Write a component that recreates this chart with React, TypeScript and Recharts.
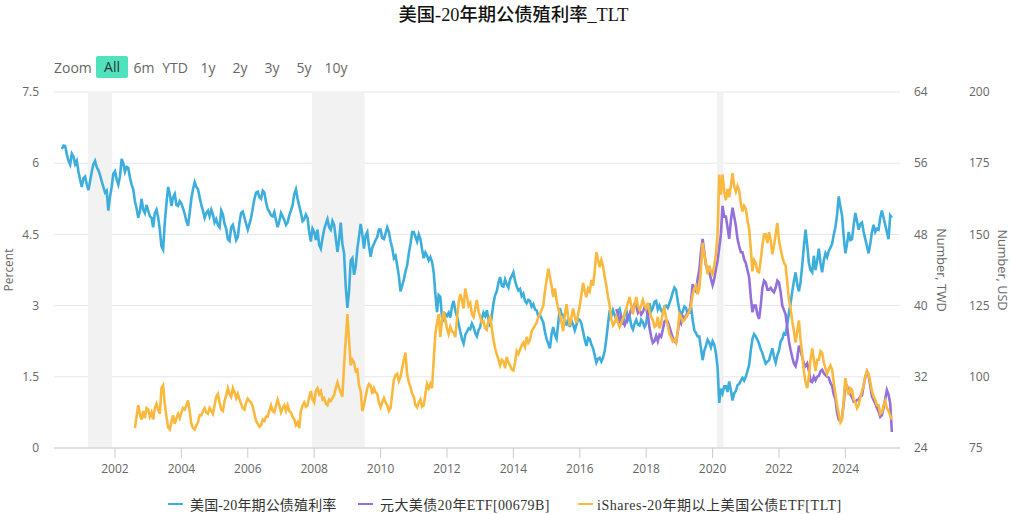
import { CartesianGrid, Legend, Line, LineChart, ReferenceArea, XAxis, YAxis } from "recharts"

// one reading every 0.05 year, starting at 2000.4
const startYear = 2000.4
const yearStep = 0.05

const yieldValues = [
  6.30, 6.37, 6.36, 6.18, 6.05, 5.97, 6.20, 6.14, 5.98, 6.05, 5.82, 5.65, 5.50, 5.68, 5.72, 5.55, 5.43, 5.62, 5.82, 5.98,
  6.05, 5.92, 5.85, 5.75, 5.62, 5.50, 5.38, 5.42, 5.00, 5.30, 5.50, 5.78, 5.83, 5.66, 5.55, 5.72, 6.09, 6.00, 5.82, 5.92,
  5.90, 5.70, 5.55, 5.45, 5.20, 5.05, 4.85, 4.98, 5.25, 5.02, 4.95, 5.12, 5.00, 4.88, 4.85, 4.65, 4.95, 5.02, 4.86, 4.60,
  4.25, 4.18, 4.75, 5.15, 5.50, 5.35, 5.10, 5.28, 5.35, 5.12, 5.10, 5.20, 5.15, 5.05, 4.93, 4.78, 4.68, 4.95, 5.25, 5.45,
  5.60, 5.50, 5.45, 5.28, 5.12, 5.00, 4.85, 4.95, 5.00, 4.88, 5.02, 4.92, 4.75, 4.82, 4.70, 4.65, 5.00, 4.92, 4.72, 4.62,
  4.40, 4.36, 4.65, 4.70, 4.55, 4.38, 4.45, 4.75, 4.95, 4.98, 4.85, 4.72, 4.60, 4.72, 4.85, 5.05, 5.25, 5.38, 5.40, 5.28,
  5.25, 5.42, 5.38, 5.18, 5.03, 4.98, 4.90, 4.88, 4.97, 4.80, 4.65, 4.78, 4.95, 4.88, 4.80, 4.70, 4.75, 4.90, 5.00, 5.12,
  5.35, 5.45, 5.25, 5.10, 4.95, 4.78, 4.82, 4.92, 4.85, 4.55, 4.35, 4.62, 4.55, 4.38, 4.60, 4.28, 4.20, 4.42, 4.60, 4.72,
  4.82, 4.65, 4.60, 4.78, 4.70, 4.42, 4.13, 4.38, 4.75, 4.30, 4.10, 3.40, 2.95, 3.30, 3.95, 4.00, 3.65, 3.82, 4.20, 4.45,
  4.72, 4.50, 4.20, 4.48, 4.55, 4.25, 4.03, 4.22, 4.30, 4.38, 4.45, 4.60, 4.60, 4.42, 4.40, 4.52, 4.65, 4.55, 4.35, 4.22,
  4.00, 4.05, 3.85, 3.62, 3.30, 3.42, 3.55, 3.72, 3.85, 4.10, 4.30, 4.55, 4.55, 4.45, 4.35, 4.50, 4.40, 4.18, 4.00, 4.12,
  4.05, 3.95, 4.02, 3.92, 3.70, 3.25, 2.86, 3.22, 3.18, 2.75, 2.70, 2.82, 2.78, 2.85, 2.75, 2.98, 3.10, 2.90, 2.78, 2.62,
  2.45, 2.30, 2.20, 2.38, 2.45, 2.52, 2.50, 2.62, 2.55, 2.42, 2.35, 2.48, 2.55, 2.72, 2.85, 2.78, 2.90, 2.70, 2.55, 2.78,
  3.05, 3.22, 3.30, 3.48, 3.60, 3.42, 3.40, 3.55, 3.45, 3.38, 3.55, 3.62, 3.70, 3.52, 3.40, 3.32, 3.35, 3.20, 3.25, 3.10,
  3.05, 3.12, 3.10, 2.98, 3.03, 2.92, 2.90, 2.78, 2.80, 2.72, 2.65, 2.45, 2.30, 2.20, 2.10, 2.40, 2.55, 2.38, 2.30, 2.62,
  2.95, 2.82, 2.80, 2.62, 2.60, 2.72, 2.55, 2.68, 2.60, 2.48, 2.60, 2.72, 2.70, 2.62, 2.45, 2.28, 2.15, 2.32, 2.30, 2.18,
  2.10, 1.95, 1.80, 1.88, 1.90, 1.82, 1.90, 2.05, 2.30, 2.62, 2.90, 2.78, 2.90, 2.80, 2.72, 2.88, 2.93, 2.74, 2.60, 2.82,
  2.92, 2.70, 2.78, 2.58, 2.50, 2.62, 2.70, 2.60, 2.58, 2.70, 2.65, 2.55, 2.62, 2.90, 3.05, 2.88, 2.95, 3.08, 3.10, 2.92,
  3.00, 2.90, 2.85, 2.98, 3.00, 2.95, 3.05, 3.15, 3.28, 3.38, 3.33, 3.10, 2.90, 2.82, 2.87, 2.98, 2.95, 2.82, 2.90, 2.98,
  2.70, 2.48, 2.42, 2.35, 2.35, 2.10, 1.85, 2.05, 2.15, 2.28, 2.22, 2.12, 2.25, 2.18, 2.00, 1.70, 0.95, 1.25, 1.15, 1.30,
  1.30, 1.18, 1.40, 1.22, 1.00, 1.15, 1.20, 1.32, 1.35, 1.42, 1.48, 1.42, 1.50, 1.62, 1.75, 2.05, 2.30, 2.40, 2.35, 2.28,
  2.20, 2.08, 2.00, 1.88, 1.78, 1.82, 1.85, 1.98, 2.10, 1.92, 1.80, 1.95, 2.05, 2.25, 2.30, 2.42, 2.40, 2.60, 2.85, 3.05,
  3.30, 3.52, 3.70, 3.45, 3.30, 3.50, 3.85, 4.25, 4.60, 4.28, 3.90, 3.75, 3.70, 4.05, 3.75, 3.95, 4.20, 3.90, 3.70, 3.95,
  4.10, 4.02, 4.15, 4.22, 4.30, 4.50, 4.65, 4.92, 5.30, 5.08, 4.90, 4.45, 4.10, 4.30, 4.55, 4.38, 4.40, 4.70, 4.95, 4.78,
  4.60, 4.72, 4.75, 4.55, 4.40, 4.25, 4.10, 4.30, 4.55, 4.70, 4.55, 4.62, 4.60, 4.85, 5.00, 4.85, 4.70, 4.55, 4.40, 4.90,
  4.85,
]

// TLT starts in mid 2002
const tltOffset = 44
const tltValues = [
  82, 86, 90, 87, 85, 88, 85.5, 89, 88.5, 86, 87.5, 85, 89, 90.5, 88.5, 87, 96, 97, 90.5, 86,
  82.3, 81.5, 84, 86.5, 83.5, 85.5, 87, 85.5, 87.5, 89, 88.5, 90, 91.7, 88, 83.5, 82, 81.5, 83, 84, 86.5,
  86.5, 88, 89, 87.5, 87, 89, 88, 87, 90, 93, 94, 91, 88.5, 88, 91.5, 93.5, 96, 94, 93, 96,
  94.5, 92.5, 94, 92, 90.5, 89, 88.5, 91, 92.3, 91.5, 91, 89.5, 87, 84.5, 83.5, 82.5, 83, 85, 84.5, 86,
  86, 88, 90, 88, 87.5, 90, 92, 90, 87.5, 89, 90, 88, 90, 88, 87.5, 86, 85, 83, 84, 82,
  88, 90, 91, 89.5, 90, 93, 95, 92, 91, 95, 96, 94, 95, 92, 92.5, 90.5, 90, 92, 91.5, 92.5,
  93.5, 96, 98, 96, 94.5, 93, 104, 113, 122, 113, 104, 106, 105, 102, 102.5, 97, 95, 88, 90, 93,
  96, 97.5, 97, 94, 96, 94.5, 94, 91, 89.3, 91, 92.5, 91, 90, 88, 89, 94, 99, 100.5, 101, 98.5,
  100, 103, 106, 108.5, 101, 98, 96.5, 94, 93, 90, 89.3, 91, 92, 89.5, 90, 94, 97.5, 96, 97.5, 96,
  106, 115, 119, 122, 114, 120, 123, 120, 117, 115, 117.5, 116, 115.5, 114, 120, 126, 129, 127, 124, 131,
  128, 125, 126, 122, 121, 124, 127, 123, 121, 119, 119.5, 117, 116.5, 120, 121, 117, 113, 110, 108, 106,
  104, 106, 105.5, 103, 107, 105, 104, 102.5, 102.2, 105, 109, 108, 109.5, 111, 112, 110.5, 114, 112, 113, 116,
  117, 118, 119, 121, 122, 123.5, 125, 130, 134, 138, 135, 132, 128, 131, 127, 124, 122, 119, 116, 122,
  125.5, 121, 118, 121, 124, 121, 119, 122, 125, 129, 133, 130, 128, 131, 130, 134, 132, 137, 143.8, 141,
  138.5, 141, 139, 135, 132, 128, 125, 120, 118, 119, 121, 119, 117.5, 119, 120.5, 122, 124, 126, 128, 125,
  122, 125, 128, 125, 123.5, 125, 127, 125, 124, 126, 123, 121, 120, 117.5, 118, 121, 117, 119, 122.5, 124,
  120.5, 118, 115, 114, 112.5, 113, 112, 116, 122, 121, 119.5, 120, 121, 122, 123, 125, 129, 131, 132, 129,
  131, 138, 147, 143, 140, 136, 139, 137, 136, 139, 143, 150, 171, 164, 171, 165, 162, 166, 163, 167,
  171.5, 167, 165, 167, 165.5, 161, 158, 160, 159, 155, 152, 145, 137, 141, 140, 137, 136.7, 141, 146, 150,
  150, 147, 150.8, 148, 143, 146, 150, 154, 148, 145, 142, 140, 139, 133, 127, 124, 119.5, 116, 112, 116,
  119.8, 113, 107.5, 102, 98, 96, 100, 106, 110, 106, 102, 106, 106, 109, 108.5, 105, 103, 101, 102.8, 104,
  102.5, 98, 94, 90, 87, 84, 85, 92, 99.5, 96, 93.5, 96, 95.5, 92, 91, 89, 90, 93, 95, 97,
  100, 102, 101, 98, 95, 93, 92, 90, 90, 87, 87.5, 90, 91.5, 89, 88, 86.5, 85,
]

// 00679B listed in early 2017
const etfOffset = 334
const etfValues = [
  39.6, 39, 38, 38.8, 38.2, 37.8, 38.3, 38.8, 39, 39.6, 39.7, 40.2, 40, 39.2, 39.5, 39, 39.3, 39.8, 39.6, 39,
  37.5, 36.5, 35.8, 36, 36.6, 36, 36.7, 36.5, 37.3, 38.2, 38.4, 38.2, 37.6, 37, 36.4, 36, 35.8, 37, 38.4, 38,
  38.8, 38.5, 38.9, 39.2, 39.2, 40.5, 42.4, 41.8, 41.6, 43, 44, 46, 47.5, 46, 44.5, 44, 43.8, 43, 42.3, 43,
  44.1, 45, 46.5, 48, 51.2, 50, 50, 48.8, 47.5, 49.5, 51, 50, 49, 47.5, 46.7, 46, 46, 45.2, 44.8, 44,
  43.2, 41, 39.25, 40, 40, 39, 38.5, 40, 42, 42.8, 42.6, 41.8, 41.8, 42, 41.7, 41.5, 42, 42.8, 42.6, 41.5,
  40, 39.5, 39, 37.5, 36, 35, 34.2, 33.5, 33.2, 34, 35.5, 35, 34.2, 33.5, 33.2, 33.5, 32.7, 31.5, 31.4, 32,
  31.6, 32, 32.1, 32.6, 32.8, 32.4, 32.2, 32, 31.9, 31.3, 31, 30, 29.5, 28, 27.2, 27, 27.5, 29, 31.2, 31,
  30.2, 30, 29.7, 29.2, 29.2, 29.4, 29.5, 29.8, 29.9, 31, 32, 32.6, 32.1, 31, 29.8, 29.4, 29, 28.5, 28.1, 27.5,
  27.7, 28.5, 29.5, 30.5, 30, 29, 25.8,
]

const yearTicks = [2002, 2004, 2006, 2008, 2010, 2012, 2014, 2016, 2018, 2020, 2022, 2024]
const percentTicks = [0, 1.5, 3, 4.5, 6, 7.5]
const twdTicks = [24, 32, 40, 48, 56, 64]
const usdTicks = [75, 100, 125, 150, 175, 200]
const recessions = [
  [2001.19, 2001.91],
  [2007.93, 2009.52],
  [2020.13, 2020.33],
]
const rangeButtons = [
  ["6m", 144],
  ["YTD", 175],
  ["1y", 208],
  ["2y", 240],
  ["3y", 272],
  ["5y", 304],
  ["10y", 336],
]

const yieldName = "美国-20年期公债殖利率"
const etfName = "元大美债20年ETF[00679B]"
const tltName = "iShares-20年期以上美国公债ETF[TLT]"

const data = yieldValues.map((value, i) => ({
  year: startYear + i * yearStep,
  yieldPct: value,
  etf: etfValues[i - etfOffset] ?? null,
  tlt: tltValues[i - tltOffset] ?? null,
}))

const sansFont = "'Open Sans', sans-serif"
const serifFont = "'Liberation Serif', 'Noto Sans CJK SC', serif"
const tickStyle = { fontSize: 12, fill: "#666", fontFamily: sansFont }
const labelStyle = { fontSize: 12, fill: "#666", fontFamily: sansFont, textAnchor: "middle" as const }
const rightLabelStyle = { ...labelStyle, fontSize: 12.7 }

function ChartLegend() {
  const items = [
    { name: yieldName, color: "#3daedb", left: 168, gap: 7, spacing: 0.15 },
    { name: etfName, color: "#9370db", left: 358, gap: 7, spacing: 0.4 },
    { name: tltName, color: "#f9b93f", left: 578, gap: 4, spacing: 0.55 },
  ]
  return (
    <div style={{ position: "relative", height: 20, width: 1011 }}>
      {items.map((item) => (
        <div key={item.name} style={{ position: "absolute", left: item.left, top: 0, height: 20, display: "flex", alignItems: "center" }}>
          <span style={{ width: 15, height: 2, background: item.color, marginRight: item.gap }} />
          <span style={{ fontFamily: serifFont, fontSize: 14, color: "#333", whiteSpace: "nowrap", letterSpacing: item.spacing }}>{item.name}</span>
        </div>
      ))}
    </div>
  )
}

export default function App() {
  return (
    <div style={{ position: "absolute", left: 0, top: 0, width: 1011, height: 514, background: "#fff", overflow: "hidden" }}>
      <div style={{ position: "absolute", left: 8, width: 1011, top: 0, textAlign: "center", fontFamily: serifFont, fontSize: 18.3, color: "#111", fontWeight: 500 }}>
        美国-20年期公债殖利率_TLT
      </div>
      <div style={{ position: "absolute", left: 54, top: 58, fontFamily: sansFont, fontSize: 14, color: "#666" }}>Zoom</div>
      <div style={{ position: "absolute", left: 96, top: 56, width: 32, height: 22, borderRadius: 2, background: "#4fe3bd", textAlign: "center", lineHeight: "22px", fontFamily: sansFont, fontSize: 14, color: "#333" }}>
        All
      </div>
      {rangeButtons.map(([name, center]) => (
        <div key={name} style={{ position: "absolute", left: (center as number) - 20, width: 40, top: 58, textAlign: "center", fontFamily: sansFont, fontSize: 14, color: "#666" }}>
          {name}
        </div>
      ))}
      <LineChart width={1011} height={514} data={data} margin={{ top: 92, right: 0, bottom: 0, left: 0 }}>
        {recessions.map(([from, to]) => (
          <ReferenceArea key={from} yAxisId="pct" x1={from} x2={to} y1={0} y2={7.5} fill="#f2f2f2" fillOpacity={1} stroke="none" />
        ))}
        <CartesianGrid yAxisId="pct" vertical={false} stroke="#e6e6e6" />
        <XAxis
          dataKey="year"
          type="number"
          domain={[2000.163, 2025.645]}
          ticks={yearTicks}
          tickFormatter={(v) => String(v)}
          height={46}
          tickSize={10}
          tickMargin={6}
          stroke="#ccc"
          tick={tickStyle}
          interval={0}
        />
        <YAxis
          yAxisId="pct"
          orientation="left"
          width={54}
          domain={[0, 7.5]}
          ticks={percentTicks}
          axisLine={false}
          tickLine={false}
          tickSize={0}
          tickMargin={15}
          tick={tickStyle}
          interval={0}
          label={{ value: "Percent", angle: -90, position: "insideLeft", dx: 4, style: labelStyle }}
        />
        <YAxis
          yAxisId="twd"
          orientation="right"
          width={55}
          domain={[24, 64]}
          ticks={twdTicks}
          axisLine={false}
          tickLine={false}
          tickSize={0}
          tickMargin={14}
          tick={tickStyle}
          interval={0}
          label={{ value: "Number, TWD", angle: 90, position: "insideRight", dx: -9, style: rightLabelStyle }}
        />
        <YAxis
          yAxisId="usd"
          orientation="right"
          width={56}
          domain={[75, 200]}
          ticks={usdTicks}
          axisLine={false}
          tickLine={false}
          tickSize={0}
          tickMargin={14}
          tick={tickStyle}
          interval={0}
          label={{ value: "Number, USD", angle: 90, position: "insideRight", dx: -4, style: rightLabelStyle }}
        />
        <Legend content={<ChartLegend />} />
        <Line yAxisId="pct" dataKey="yieldPct" name={yieldName} stroke="#3daedb" strokeWidth={2.6} dot={false} isAnimationActive={false} />
        <Line yAxisId="twd" dataKey="etf" name={etfName} stroke="#9370db" strokeWidth={2.6} dot={false} isAnimationActive={false} />
        <Line yAxisId="usd" dataKey="tlt" name={tltName} stroke="#f9b93f" strokeWidth={2.6} dot={false} isAnimationActive={false} />
      </LineChart>
    </div>
  )
}
